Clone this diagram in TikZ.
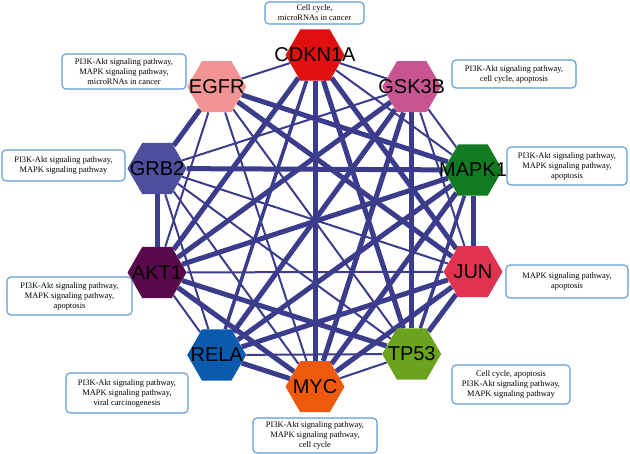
\documentclass[tikz,border=0pt]{standalone}
\usepackage{fontspec}
\setmainfont{Liberation Serif}
\newfontfamily\hexfont{Liberation Sans}
\usetikzlibrary{shapes.geometric,backgrounds}
\definecolor{edgec}{RGB}{60,60,140}
\definecolor{boxc}{RGB}{91,155,213}
\definecolor{cCDKN}{RGB}{224,16,16}
\definecolor{cEGFR}{RGB}{242,148,148}
\definecolor{cGSK}{RGB}{200,85,146}
\definecolor{cGRB}{RGB}{77,79,156}
\definecolor{cMAPK}{RGB}{18,123,34}
\definecolor{cAKT}{RGB}{90,10,76}
\definecolor{cJUN}{RGB}{224,51,79}
\definecolor{cRELA}{RGB}{10,90,173}
\definecolor{cTP}{RGB}{107,163,30}
\definecolor{cMYC}{RGB}{238,90,12}
\begin{document}
\begin{tikzpicture}[x=1pt,y=-1pt,
  hexa/.style={shape=regular polygon, regular polygon sides=6, minimum size=59pt, inner sep=0pt, draw=none, fill=#1},
  hexlabel/.style={font=\hexfont\fontsize{20}{24}\selectfont, inner sep=0pt, text=black},
  infobox/.style={draw=boxc, line width=1.1pt, rounded corners=4pt, fill=white, align=center, font=\fontsize{8.4}{10}\selectfont, inner sep=0pt},
  thk/.style={draw=edgec, line width=5pt},
  mid/.style={draw=edgec, line width=3.5pt},
  thn/.style={draw=edgec, line width=2pt}]
\useasboundingbox (0,0) rectangle (630,454);
% hexagon nodes
\node[hexa=cCDKN] (cdkn) at (315,55) {};
\node[hexa=cEGFR] (egfr) at (216.7,86.7) {};
\node[hexa=cGSK]  (gsk)  at (411.7,86.7) {};
\node[hexa=cGRB]  (grb)  at (157,168.5) {};
\node[hexa=cMAPK] (mapk) at (473,170) {};
\node[hexa=cAKT]  (akt)  at (157,272.5) {};
\node[hexa=cJUN]  (jun)  at (473,271.7) {};
\node[hexa=cRELA] (rela) at (216.7,355) {};
\node[hexa=cTP]   (tp)   at (411.7,354) {};
\node[hexa=cMYC]  (myc)  at (315,386.7) {};
% edges
\begin{pgfonlayer}{background}
\draw[thk] (grb) -- (mapk);
\draw[thk] (cdkn) -- (myc);
\draw[thk] (grb) -- (akt);
\draw[thk] (mapk) -- (jun);
\draw[thk] (gsk) -- (tp);
\draw[thk] (egfr) -- (grb);
\draw[thk] (jun) -- (tp);
\draw[thk] (rela) -- (myc);
\draw[thk] (egfr) -- (mapk);
\draw[thk] (egfr) -- (jun);
\draw[thk] (cdkn) -- (akt);
\draw[thk] (cdkn) -- (tp);
\draw[thk] (cdkn) -- (jun);
\draw[thk] (gsk) -- (akt);
\draw[thk] (gsk) -- (rela);
\draw[thk] (gsk) -- (myc);
\draw[thk] (mapk) -- (akt);
\draw[thk] (mapk) -- (rela);
\draw[thk] (mapk) -- (myc);
\draw[thk] (akt) -- (myc);
\draw[thk] (akt) -- (tp);
\draw[thk] (jun) -- (rela);
\draw[thk] (jun) -- (myc);
\draw[mid] (mapk) -- (tp);
\draw[thn] (egfr) -- (akt);
\draw[mid] (cdkn) -- (rela);
\draw[thn] (akt) -- (jun);
\draw[thn] (rela) -- (tp);
\draw[thn] (egfr) -- (cdkn);
\draw[thn] (cdkn) -- (gsk);
\draw[thn] (gsk) -- (mapk);
\draw[thn] (akt) -- (rela);
\draw[thn] (myc) -- (tp);
\draw[thn] (egfr) -- (myc);
\draw[thn] (egfr) -- (tp);
\draw[thn] (gsk) -- (grb);
\draw[thn] (gsk) -- (jun);
\draw[thn] (cdkn) -- (mapk);
\draw[thn] (grb) -- (jun);
\draw[thn] (grb) -- (tp);
\draw[thn] (grb) -- (myc);
\draw[thn] (grb) -- (rela);
\end{pgfonlayer}
% labels on hexagons
\node[hexlabel] (cdkn-t) at (cdkn) {CDKN1A};
\node[hexlabel] (egfr-t) at (egfr) {EGFR};
\node[hexlabel] (gsk-t)  at (gsk)  {GSK3B};
\node[hexlabel] (grb-t)  at (grb)  {GRB2};
\node[hexlabel] (mapk-t) at (mapk) {MAPK1};
\node[hexlabel] (akt-t)  at (akt)  {AKT1};
\node[hexlabel] (jun-t)  at (jun)  {JUN};
\node[hexlabel] (rela-t) at (rela) {RELA};
\node[hexlabel] (tp-t)   at (tp)   {TP53};
\node[hexlabel] (myc-t)  at (myc)  {MYC};
% info boxes
\node[infobox, minimum width=99pt, minimum height=22pt] (b-cdkn) at (314.5,13) {Cell cycle,\\microRNAs in cancer};
\node[infobox, minimum width=124pt, minimum height=35pt] (b-egfr) at (124,71.5) {PI3K-Akt signaling pathway,\\MAPK signaling pathway,\\microRNAs in cancer};
\node[infobox, minimum width=124pt, minimum height=28pt] (b-gsk) at (514,74) {PI3K-Akt signaling pathway,\\cell cycle, apoptosis};
\node[infobox, minimum width=123pt, minimum height=31pt] (b-grb) at (63.5,165.5) {PI3K-Akt signaling pathway,\\MAPK signaling pathway};
\node[infobox, minimum width=120pt, minimum height=38pt] (b-mapk) at (567,166) {PI3K-Akt signaling pathway,\\MAPK signaling pathway,\\apoptosis};
\node[infobox, minimum width=125pt, minimum height=38pt] (b-akt) at (69.5,296) {PI3K-Akt signaling pathway,\\MAPK signaling pathway,\\apoptosis};
\node[infobox, minimum width=122pt, minimum height=33pt] (b-jun) at (567,281.5) {MAPK signaling pathway,\\apoptosis};
\node[infobox, minimum width=122pt, minimum height=40pt] (b-rela) at (127,393) {PI3K-Akt signaling pathway,\\MAPK signaling pathway,\\viral carcinogenesis};
\node[infobox, minimum width=118pt, minimum height=39pt] (b-tp) at (511,384.5) {Cell cycle, apoptosis\\PI3K-Akt signaling pathway,\\MAPK signaling pathway};
\node[infobox, minimum width=124pt, minimum height=35pt] (b-myc) at (315,435.5) {PI3K-Akt signaling pathway,\\MAPK signaling pathway,\\cell cycle};
\end{tikzpicture}
\end{document}
